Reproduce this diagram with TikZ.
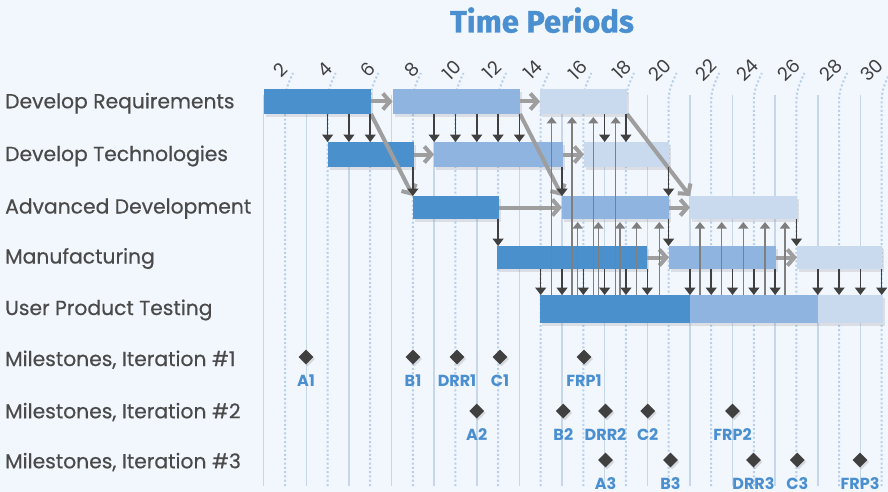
\documentclass[tikz,border=0pt]{standalone}
\usepackage{fontspec}
\setmainfont{Poppins}
\newfontfamily\labfont{Poppins}[FakeBold=0.5]
\newfontfamily\titlefont{Fira Sans}[FakeBold=1.2]
\usetikzlibrary{arrows.meta,shapes.geometric,shadows}
\definecolor{bg}{HTML}{F2F6FD}
\definecolor{cdark}{HTML}{4A90CD}
\definecolor{cmid}{HTML}{8FB4DF}
\definecolor{clight}{HTML}{C9DAEE}
\definecolor{gsolid}{HTML}{C6D7EC}
\definecolor{gdot}{HTML}{B5CFEC}
\definecolor{txt}{HTML}{4A4A4A}
\definecolor{tblue}{HTML}{4A8FD0}
\definecolor{arrg}{HTML}{9E9E9E}
\definecolor{arrd}{HTML}{404040}
\definecolor{arru}{HTML}{7F7F7F}
\begin{document}
\begin{tikzpicture}[x=1pt,y=-1pt,
  bar/.style={inner sep=0pt,outer sep=0pt,anchor=north west,draw=none,
    drop shadow={shadow xshift=2pt,shadow yshift=-3pt,opacity=0.2}},
  rowlab/.style={anchor=base west,inner sep=0pt,text=txt,font=\labfont\fontsize{20.3}{22}\selectfont},
  numlab/.style={rotate=45,inner sep=0pt,text=arrd,font=\fontsize{18.5}{20}\selectfont},
  solidgrid/.style={draw=gsolid,line width=1.5pt},
  dotgrid/.style={draw=gdot,line width=2pt,dash pattern=on 2pt off 2.3pt},
  garr/.style={draw=arrg,line width=4pt,-{Straight Barb[length=7pt,width=16pt]}},
  darr/.style={draw=arrd,line width=1.5pt,-{Triangle[length=7.5pt,width=11pt]}},
  uarr/.style={draw=arru,line width=1.3pt,-{Triangle[length=6.5pt,width=10pt]},shorten >=3pt},
  mstone/.style={diamond,fill=arrd,minimum size=15pt,inner sep=0pt,
    drop shadow={shadow xshift=1.5pt,shadow yshift=-2pt,opacity=0.25}},
  mlab/.style={anchor=base,inner sep=0pt,text=tblue,font=\fontsize{16}{18}\selectfont\bfseries},
]
\useasboundingbox (0,0) rectangle (888,492);
\fill[bg] (0,0) rectangle (888,492);

% column coordinates
\foreach \t in {1,...,30} \coordinate (t\t) at ({242.38+21.31*\t},0);

% grid
\foreach \t in {1,3,...,29} \draw[solidgrid] (t\t |- 0,95) -- (t\t |- 0,486);
\foreach \t in {2,4,...,30} {
  \draw[dotgrid] (t\t |- 0,486) -- (t\t |- 0,100) .. controls (t\t |- 0,90) and ([xshift=4pt]t\t |- 0,82) .. ([xshift=8pt]t\t |- 0,73);
}
% period numbers
\foreach \t/\cx in {2/280.5,4/325,6/368,8/411.7,10/451.7,12/492,14/533,16/578,18/622,20/660,22/706,24/747.5,26/789,28/831,30/872}
  \node[numlab] (n\t) at (\cx,70) {\t};

% title
\node[anchor=base,inner sep=0pt,text=tblue,font=\titlefont\fontsize{31}{34}\selectfont\bfseries] (title) at (542,32.5) {Time Periods};

% row labels
\node[rowlab] (l1) at (5,108.3) {Develop Requirements};
\node[rowlab] (l2) at (5,161) {Develop Technologies};
\node[rowlab] (l3) at (5,213.5) {Advanced Development};
\node[rowlab] (l4) at (5,263.5) {Manufacturing};
\node[rowlab] (l5) at (5,315) {User Product Testing};
\node[rowlab] (l6) at (5,366) {Milestones, Iteration \#1};
\node[rowlab] (l7) at (5,418.3) {Milestones, Iteration \#2};
\node[rowlab] (l8) at (5,468.3) {Milestones, Iteration \#3};

% bars
\node[bar,fill=cdark,minimum width=107pt,minimum height=25pt] (r1a) at (264,89) {};
\node[bar,fill=cmid,minimum width=127.5pt,minimum height=25pt] (r1b) at (392.5,89) {};
\node[bar,fill=clight,minimum width=87pt,minimum height=25pt] (r1c) at (540,89) {};
\node[bar,fill=cdark,minimum width=86pt,minimum height=25pt] (r2a) at (327.5,142) {};
\node[bar,fill=cmid,minimum width=129pt,minimum height=25pt] (r2b) at (434,142) {};
\node[bar,fill=clight,minimum width=85pt,minimum height=25pt] (r2c) at (584,142) {};
\node[bar,fill=cdark,minimum width=86pt,minimum height=23pt] (r3a) at (413,196) {};
\node[bar,fill=cmid,minimum width=107pt,minimum height=23pt] (r3b) at (562,196) {};
\node[bar,fill=clight,minimum width=107pt,minimum height=23pt] (r3c) at (690,196) {};
\node[bar,fill=cdark,minimum width=150.5pt,minimum height=23pt] (r4a) at (496.5,246) {};
\node[bar,fill=cmid,minimum width=107pt,minimum height=23pt] (r4b) at (669,246) {};
\node[bar,fill=clight,minimum width=85pt,minimum height=23pt] (r4c) at (797,246) {};
\node[bar,fill=cdark,minimum width=150pt,minimum height=28pt] (r5a) at (540,295) {};
\node[bar,fill=cmid,minimum width=128pt,minimum height=28pt] (r5b) at (690,295) {};
\node[bar,fill=clight,minimum width=65pt,minimum height=28pt] (r5c) at (818,295) {};

% gray flow arrows
\draw[garr] (r1a.east) -- (r1b.west);
\draw[garr] (r1b.east) -- (r1c.west);
\draw[garr] (r2a.east) -- (r2b.west);
\draw[garr] (r2b.east) -- (r2c.west);
\draw[garr] (r3a.east) -- (r3b.west);
\draw[garr] (r3b.east) -- (r3c.west);
\draw[garr] (r4a.east) -- (r4b.west);
\draw[garr] (r4b.east) -- (r4c.west);
\draw[garr] (r1a.south east) -- (r3a.north west);
\draw[garr] (r1b.south east) -- (r3b.north west);
\draw[garr] (r1c.south east) -- (r3c.north west);

% down arrows
\foreach \t in {4,5,6} \draw[darr] (r1a.south -| t\t) -- (r2a.north -| t\t);
\foreach \t in {9,...,13} \draw[darr] (r1b.south -| t\t) -- (r2b.north -| t\t);
\foreach \t in {17,18} \draw[darr] (r1c.south -| t\t) -- (r2c.north -| t\t);
\draw[darr] (r2a.south -| t8) -- (r3a.north -| t8);
\draw[darr] (r2b.south -| t15) -- (r3b.north -| t15);
\draw[darr] (r2c.south -| t20) -- (r3b.north -| t20);
\draw[darr] (r3a.south -| t12) -- (r4a.north -| t12);
\draw[darr] (r3b.south -| t20) -- (r4b.north -| t20);
\draw[darr] (r3c.south -| t26) -- (r4c.north -| t26);
\foreach \t in {14,...,19} \draw[darr] (r4a.south -| t\t) -- (r5a.north -| t\t);
\foreach \t in {21,...,25} \draw[darr] (r4b.south -| t\t) -- (r5b.north -| t\t);
\foreach \t in {27,...,30} \draw[darr] (r4c.south -| t\t) -- (r5c.north -| t\t);

% up arrows
\foreach \x [count=\i] in {551.7,572,593.3,615.7} {
  \coordinate (ua\i) at (\x,0);
  \draw[uarr] (r5a.north -| ua\i) -- (r1c.south -| ua\i);
}
\foreach \x [count=\i] in {577.7,598.3,620,636.7,659.3} {
  \coordinate (ub\i) at (\x,0);
  \draw[uarr] (r5a.north -| ub\i) -- (r3b.south -| ub\i);
}
\foreach \x [count=\i] in {700,721.7,743.3,765,785} {
  \coordinate (uc\i) at (\x,0);
  \draw[uarr] (r5b.north -| uc\i) -- (r3c.south -| uc\i);
}

% milestones
\foreach \name/\x/\y in {A1/306/357, B1/413/357, DRR1/457/357, C1/500/357, FRP1/584/357,
  A2/476.7/411, B2/563.3/411, DRR2/605.5/411, C2/647.7/411, FRP2/732.5/411,
  A3/605.5/460, B3/670.5/460, DRR3/753.5/460, C3/797.3/460, FRP3/860/460} {
  \node[mstone] (m\name) at (\x,\y) {};
  \node[mlab] (lab\name) at ([yshift=-29pt]m\name.center) {\name};
}
\end{tikzpicture}
\end{document}
